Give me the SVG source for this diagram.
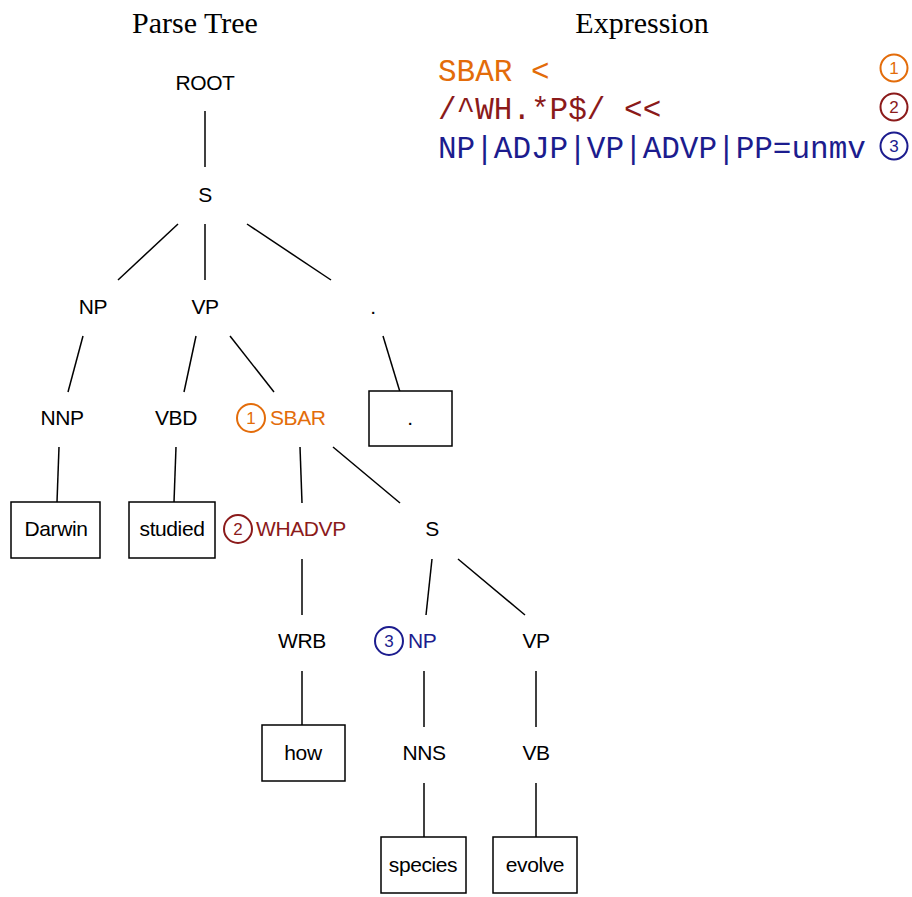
<svg xmlns="http://www.w3.org/2000/svg" width="912" height="897" viewBox="0 0 912 897">
<style>
.t{font-family:"Liberation Sans",Arial,sans-serif;font-size:21px;fill:#000;text-anchor:middle;letter-spacing:-0.4px}
.s{text-anchor:start}
.h{font-family:"Liberation Serif","Times New Roman",serif;font-size:30px;fill:#000;text-anchor:middle}
.m{font-family:"Liberation Mono","Courier New",monospace;font-size:31px}
.n{font-family:"Liberation Sans",Arial,sans-serif;font-size:17px;text-anchor:middle}
.box{fill:#fff;stroke:#000;stroke-width:1.5}
.c{fill:none;stroke-width:2}
.o{fill:#e36c0a}.oc{stroke:#e36c0a}
.r{fill:#8b1a1a}.rc{stroke:#8b1a1a}
.b{fill:#1c1c8e}.bc{stroke:#1c1c8e}
#edges line{stroke:#000;stroke-width:1.5}
</style>
<rect width="912" height="897" fill="#fff"/>
<text class="h" x="195" y="33">Parse Tree</text>
<text class="h" x="642" y="33">Expression</text>
<g id="expression">
<text class="m o" x="438" y="81">SBAR &lt;</text>
<text class="m r" x="438" y="119">/^WH.*P$/ &lt;&lt;</text>
<text class="m b" x="438" y="158">NP|ADJP|VP|ADVP|PP=unmv</text>
<circle class="c oc" cx="894" cy="68" r="13.5"/><text class="n o" x="894" y="74">1</text>
<circle class="c rc" cx="894" cy="107" r="13.5"/><text class="n r" x="894" y="113">2</text>
<circle class="c bc" cx="894" cy="146" r="13.5"/><text class="n b" x="894" y="152">3</text>
</g>
<g id="edges">
<line x1="205" y1="111" x2="205" y2="167"/>
<line x1="178" y1="224" x2="118" y2="280"/>
<line x1="205" y1="224" x2="205" y2="280"/>
<line x1="247" y1="224" x2="331" y2="280"/>
<line x1="83" y1="336" x2="68" y2="392"/>
<line x1="196" y1="336" x2="184" y2="392"/>
<line x1="230" y1="336" x2="274" y2="392"/>
<line x1="383" y1="336" x2="400" y2="392"/>
<line x1="59" y1="447" x2="57" y2="502"/>
<line x1="176" y1="447" x2="174" y2="502"/>
<line x1="300" y1="447" x2="302" y2="503"/>
<line x1="333" y1="447" x2="400" y2="503"/>
<line x1="302" y1="559" x2="302" y2="615"/>
<line x1="432" y1="559" x2="426" y2="615"/>
<line x1="458" y1="559" x2="525" y2="615"/>
<line x1="302" y1="671" x2="302" y2="725"/>
<line x1="424" y1="671" x2="424" y2="727"/>
<line x1="536" y1="671" x2="536" y2="727"/>
<line x1="424" y1="783" x2="424" y2="837"/>
<line x1="536" y1="783" x2="536" y2="837"/>
</g>
<g id="n_root"><text class="t" x="205" y="90">ROOT</text></g>
<g id="n_s1"><text class="t" x="205" y="202">S</text></g>
<g id="n_np1"><text class="t" x="93" y="314">NP</text></g>
<g id="n_vp1"><text class="t" x="205" y="314">VP</text></g>
<g id="n_dot1"><text class="t" x="373" y="314">.</text></g>
<g id="n_nnp"><text class="t" x="62" y="425">NNP</text></g>
<g id="n_vbd"><text class="t" x="176" y="425">VBD</text></g>
<g id="n_sbar"><circle class="c oc" cx="251" cy="418" r="14"/><text class="n o" x="251" y="424">1</text><text class="t s o" x="270" y="425">SBAR</text></g>
<g id="n_dot2"><rect class="box" x="369" y="391" width="83" height="55"/><text class="t" x="410" y="425">.</text></g>
<g id="n_darwin"><rect class="box" x="11" y="502" width="89" height="56"/><text class="t" x="56" y="536">Darwin</text></g>
<g id="n_studied"><rect class="box" x="129" y="502" width="86" height="56"/><text class="t" x="172" y="536">studied</text></g>
<g id="n_whadvp"><circle class="c rc" cx="238" cy="529" r="14"/><text class="n r" x="238" y="535">2</text><text class="t s r" x="256" y="536">WHADVP</text></g>
<g id="n_s2"><text class="t" x="432" y="536">S</text></g>
<g id="n_wrb"><text class="t" x="302" y="648">WRB</text></g>
<g id="n_np2"><circle class="c bc" cx="389" cy="641" r="14"/><text class="n b" x="389" y="647">3</text><text class="t s b" x="408" y="648">NP</text></g>
<g id="n_vp2"><text class="t" x="536" y="648">VP</text></g>
<g id="n_how"><rect class="box" x="262" y="725" width="83" height="56"/><text class="t" x="303" y="760">how</text></g>
<g id="n_nns"><text class="t" x="424" y="760">NNS</text></g>
<g id="n_vb"><text class="t" x="536" y="760">VB</text></g>
<g id="n_species"><rect class="box" x="381" y="837" width="85" height="56"/><text class="t" x="423" y="872">species</text></g>
<g id="n_evolve"><rect class="box" x="493" y="837" width="84" height="56"/><text class="t" x="535" y="872">evolve</text></g>
</svg>
